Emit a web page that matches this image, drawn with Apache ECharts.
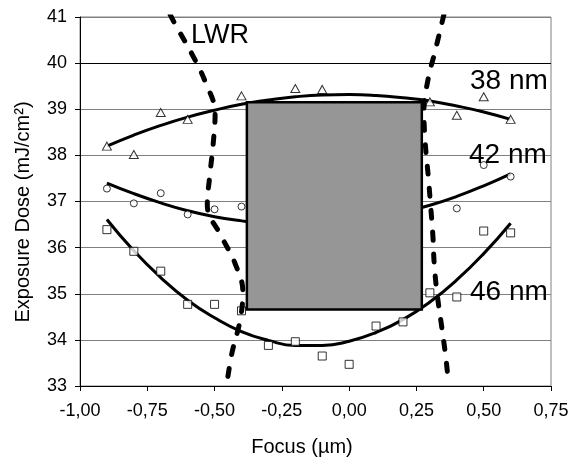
<!DOCTYPE html>
<html>
<head>
<meta charset="utf-8">
<script src="https://cdn.jsdelivr.net/npm/echarts@6/dist/echarts.min.js"></script>
<style>
html,body{margin:0;padding:0;background:#fff;}
#chart{width:572px;height:462px;}
</style>
</head>
<body>
<div id="chart"></div>
<script>
// ---- data ----
const focus = [-0.9,-0.8,-0.7,-0.6,-0.5,-0.4,-0.3,-0.2,-0.1,0.0,0.1,0.2,0.3,0.4,0.5,0.6];
const dose38 = [38.20,38.02,38.93,38.78,null,39.29,null,39.45,39.43,null,null,null,39.16,38.87,39.27,38.78];
const dose42 = [37.28,36.96,37.18,36.72,36.83,36.89,null,null,null,null,null,null,null,36.85,37.79,37.54];
const dose46 = [36.39,35.92,35.49,34.77,34.77,34.63,33.88,33.96,33.65,33.47,34.30,34.39,35.02,34.93,36.36,36.32];
const fit38 = [38.20,38.44,38.65,38.83,38.98,39.11,39.20,39.27,39.31,39.32,39.30,39.25,39.18,39.07,38.94,38.78];
const fit42 = [37.40,37.17,36.97,36.80,36.67,36.58,36.52,36.50,36.51,36.56,36.65,36.77,36.92,37.11,37.34,37.60];
const fit46 = [36.61,35.93,35.35,34.86,34.48,34.18,33.99,33.88,33.88,33.97,34.16,34.44,34.82,35.30,35.87,36.53];
const lwrLeftFocus = [-0.665,-0.647,-0.579,-0.535,-0.498,-0.505,-0.517,-0.527,-0.473,-0.424,-0.395,-0.405,-0.436,-0.455];
const lwrLeftDose  = [41.05,40.85,40.14,39.60,38.91,38.26,37.60,36.92,36.23,35.66,35.04,34.43,33.70,33.02];
const lwrRightFocus = [0.352,0.319,0.294,0.278,0.282,0.294,0.303,0.311,0.316,0.326,0.344,0.359,0.369];
const lwrRightDose  = [41.05,40.25,39.67,38.98,38.33,37.54,36.89,36.27,35.66,35.04,34.28,33.63,33.05];
const boxFocus = [-0.38, 0.27];
const boxDose = [34.66, 39.15];
const curveLabels = ['38 nm','42 nm','46 nm'];
const lwrLabel = 'LWR';
const xTitle = 'Focus (µm)';
const yTitle = 'Exposure Dose (mJ/cm²)';

function pts(xs, ys){ const out=[]; for(let i=0;i<xs.length;i++){ if(ys[i]!=null) out.push([xs[i], ys[i]]); } return out; }

const chart = echarts.init(document.getElementById('chart'), null, {renderer:'canvas'});
const FONT = 'Liberation Sans, Arial, sans-serif';
const markerStyle = {color:'#fff', borderColor:'#000', borderWidth:1};
const fitStyle = {color:'#000', width:3};
const lwrStyle = {color:'#000', width:5, type:[8,14], cap:'round'};

chart.setOption({
  animation:false,
  backgroundColor:'#fff',
  grid:{left:80, right:21, top:17, bottom:76, show:true, borderColor:'#808080', borderWidth:1, containLabel:false},
  xAxis:{type:'value', min:-1, max:0.75, interval:0.25,
    axisLine:{show:true, onZero:false, lineStyle:{color:'#000', width:1}},
    axisTick:{show:true, inside:false, length:5, lineStyle:{color:'#000'}},
    axisLabel:{color:'#000', fontFamily:FONT, fontSize:18, margin:16,
      formatter:v=>v.toFixed(2).replace('.',',')},
    splitLine:{show:false}},
  yAxis:{type:'value', min:33, max:41, interval:1,
    axisLine:{show:true, onZero:false, lineStyle:{color:'#000', width:1}},
    axisTick:{show:true, inside:false, length:5, lineStyle:{color:'#000'}},
    axisLabel:{color:'#000', fontFamily:FONT, fontSize:18, margin:13},
    splitLine:{show:true, lineStyle:{color:'#808080', width:1}}},
  series:[
    {type:'line', data:pts(focus, fit38), smooth:true, showSymbol:false, lineStyle:fitStyle, z:2,
      markLine:{silent:true, symbol:'none', label:{show:false}, lineStyle:{color:'#000', width:1, type:'solid'}, data:[{yAxis:40}]}},
    {type:'line', data:pts(focus, fit42), smooth:true, showSymbol:false, lineStyle:fitStyle, z:2},
    {type:'line', data:pts(focus, fit46), smooth:true, showSymbol:false, lineStyle:fitStyle, z:2},
    {type:'scatter', data:pts(focus, dose38), symbol:'triangle', symbolSize:[9,8], itemStyle:markerStyle, z:3},
    {type:'scatter', data:pts(focus, dose42), symbol:'circle', symbolSize:7, itemStyle:markerStyle, z:3},
    {type:'scatter', data:pts(focus, dose46), symbol:'rect', symbolSize:8, itemStyle:markerStyle, z:3},
    {type:'custom', z:4, data:[[boxFocus[0], boxDose[0], boxFocus[1], boxDose[1]]],
      renderItem:function(params, api){
        const p0 = api.coord([api.value(0), api.value(3)]);
        const p1 = api.coord([api.value(2), api.value(1)]);
        return {type:'rect', shape:{x:p0[0], y:p0[1], width:p1[0]-p0[0], height:p1[1]-p0[1]},
          style:{fill:'#969696', stroke:'#000', lineWidth:2.5}};
      }},
    {type:'line', data:pts(lwrLeftFocus, lwrLeftDose), smooth:0.4, showSymbol:false, lineStyle:lwrStyle, z:5},
    {type:'line', data:pts(lwrRightFocus, lwrRightDose), smooth:0.4, showSymbol:false, lineStyle:lwrStyle, z:5}
  ],
  graphic:[
    {type:'text', x:191, y:36, z:10, style:{text:lwrLabel, font:'27px '+FONT, fill:'#000', textAlign:'left', textVerticalAlign:'middle'}},
    {type:'text', x:470, y:81, z:10, style:{text:curveLabels[0], font:'28px '+FONT, fill:'#000', textAlign:'left', textVerticalAlign:'middle'}},
    {type:'text', x:469, y:155, z:10, style:{text:curveLabels[1], font:'28px '+FONT, fill:'#000', textAlign:'left', textVerticalAlign:'middle'}},
    {type:'text', x:470, y:292, z:10, style:{text:curveLabels[2], font:'28px '+FONT, fill:'#000', textAlign:'left', textVerticalAlign:'middle'}},
    {type:'text', x:302, y:447, z:10, style:{text:xTitle, font:'20px '+FONT, fill:'#000', textAlign:'center', textVerticalAlign:'middle'}},
    {type:'text', x:23, y:212, rotation:Math.PI/2, z:10, style:{text:yTitle, font:'20px '+FONT, fill:'#000', textAlign:'center', textVerticalAlign:'middle'}}
  ]
});
</script>
</body>
</html>
